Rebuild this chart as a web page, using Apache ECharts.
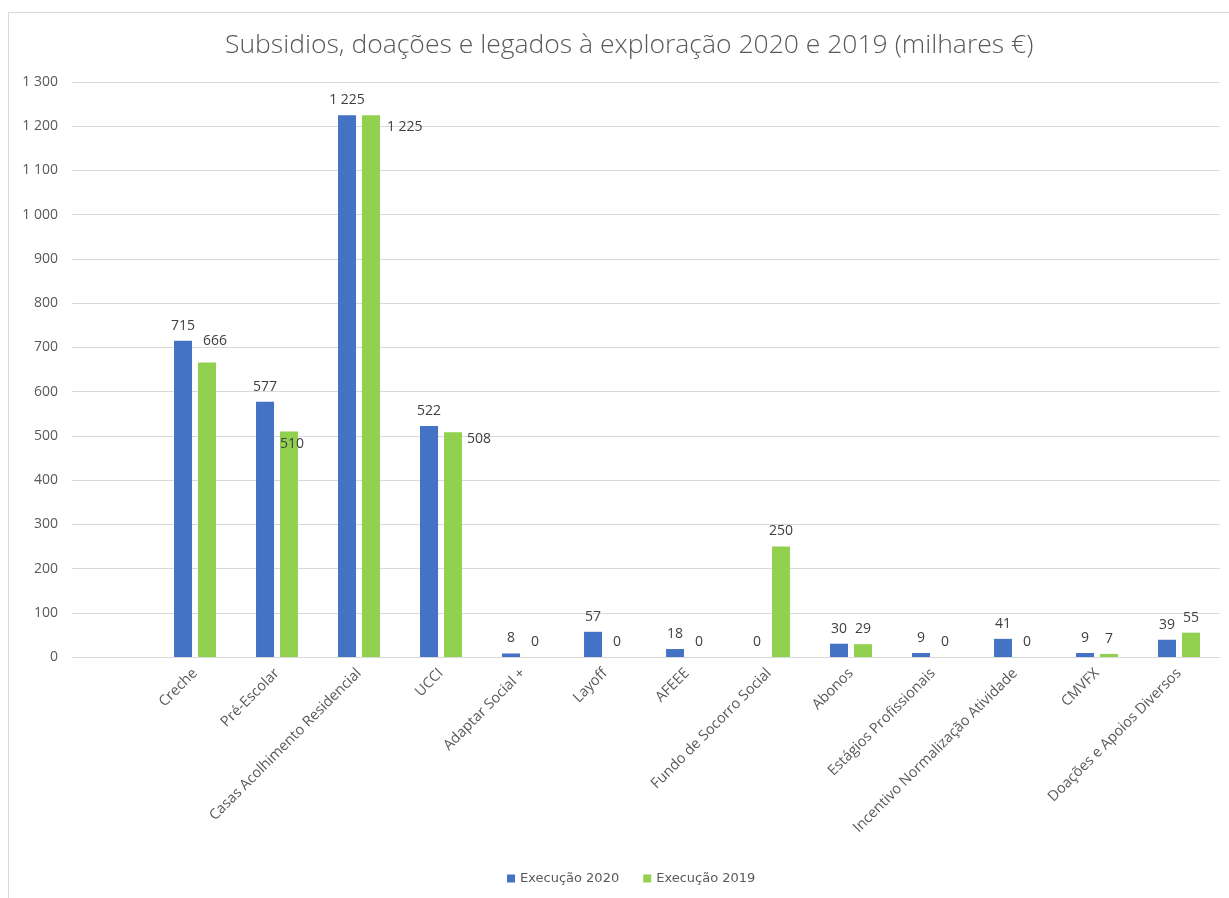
<!DOCTYPE html>
<html>
<head>
<meta charset="utf-8">
<script src="https://cdn.jsdelivr.net/npm/echarts@6/dist/echarts.min.js"></script>
<style>
  html, body { margin: 0; padding: 0; background: #fff; }
  #chart { position: absolute; left: 0; top: 0; width: 1229px; height: 898px; }
  #frame { position: absolute; left: 8px; top: 12px; width: 1240px; height: 900px;
           border-left: 1px solid #d9d9d9; border-top: 1px solid #d9d9d9; pointer-events: none; }
</style>
</head>
<body>
<div id="chart"></div>
<div id="frame"></div>
<script>
// first slot is left empty in the original chart
var categories = ['', 'Creche', 'Pré-Escolar', 'Casas Acolhimento Residencial', 'UCCI',
  'Adaptar Social +', 'Layoff', 'AFEEE', 'Fundo de Socorro Social', 'Abonos',
  'Estágios Profissionais', 'Incentivo Normalização Atividade', 'CMVFX', 'Doações e Apoios Diversos'];
var exec2020 = [null, 715, 577, 1225, 522, 8, 57, 18, 0, 30, 9, 41, 9, 39];
var exec2019 = [null, 666, 510, 1225, 508, 0, 0, 0, 250, 29, 0, 0, 7, 55];
var seriesNames = ['Execução 2020', 'Execução 2019'];

// the few green labels that sit beside their bar
var greenLabelTweaks = {
  1: { position: 'top', offset: [8, -6] },
  2: { position: 'insideTop', offset: [3, -2] },
  3: { position: ['100%', 5], offset: [7, 0], align: 'left', verticalAlign: 'top' },
  4: { position: ['100%', 0], offset: [5, 0], align: 'left', verticalAlign: 'top' }
};

function fmt(v) {
  return String(v).replace(/\B(?=(\d{3})+(?!\d))/g, ' ');
}

var chart = echarts.init(document.getElementById('chart'));
chart.setOption({
  animation: false,
  title: {
    text: 'Subsidios, doações e legados à exploração 2020 e 2019 (milhares €)',
    left: 220,
    top: 27,
    textStyle: { fontFamily: 'Open Sans', fontWeight: 300, fontSize: 26.5, color: '#595959' }
  },
  legend: {
    data: seriesNames,
    bottom: 8,
    left: 502,
    icon: 'rect',
    itemWidth: 8,
    itemHeight: 8,
    itemGap: 24,
    textStyle: { fontFamily: 'DejaVu Sans', fontSize: 13, color: '#595959' }
  },
  grid: { left: 72, top: 82, width: 1148, height: 575 },
  xAxis: {
    type: 'category',
    data: categories,
    axisLine: { lineStyle: { color: '#d9d9d9' } },
    axisTick: { show: false },
    axisLabel: {
      interval: 0,
      rotate: 45,
      margin: 14,
      fontFamily: 'Open Sans',
      fontSize: 14.5,
      color: '#595959'
    }
  },
  yAxis: {
    type: 'value',
    min: 0,
    max: 1300,
    interval: 100,
    axisLine: { show: false },
    axisTick: { show: false },
    splitLine: { lineStyle: { color: '#d9d9d9' } },
    axisLabel: {
      margin: 14,
      fontFamily: 'Open Sans',
      fontSize: 14,
      color: '#595959',
      formatter: fmt
    }
  },
  series: [
    {
      name: seriesNames[0],
      type: 'bar',
      data: exec2020,
      barWidth: 18,
      barGap: '33%',
      itemStyle: { color: '#4472C4' },
      label: {
        show: true, position: 'top', distance: 8,
        fontFamily: 'Open Sans', fontSize: 14, color: '#404040',
        formatter: function (p) { return fmt(p.value); }
      }
    },
    {
      name: seriesNames[1],
      type: 'bar',
      data: exec2019.map(function (v, i) {
        return greenLabelTweaks[i] ? { value: v, label: greenLabelTweaks[i] } : v;
      }),
      barWidth: 18,
      itemStyle: { color: '#92D050' },
      label: {
        show: true, position: 'top', distance: 8,
        fontFamily: 'Open Sans', fontSize: 14, color: '#404040',
        formatter: function (p) { return fmt(p.value); }
      }
    }
  ]
});
</script>
</body>
</html>
